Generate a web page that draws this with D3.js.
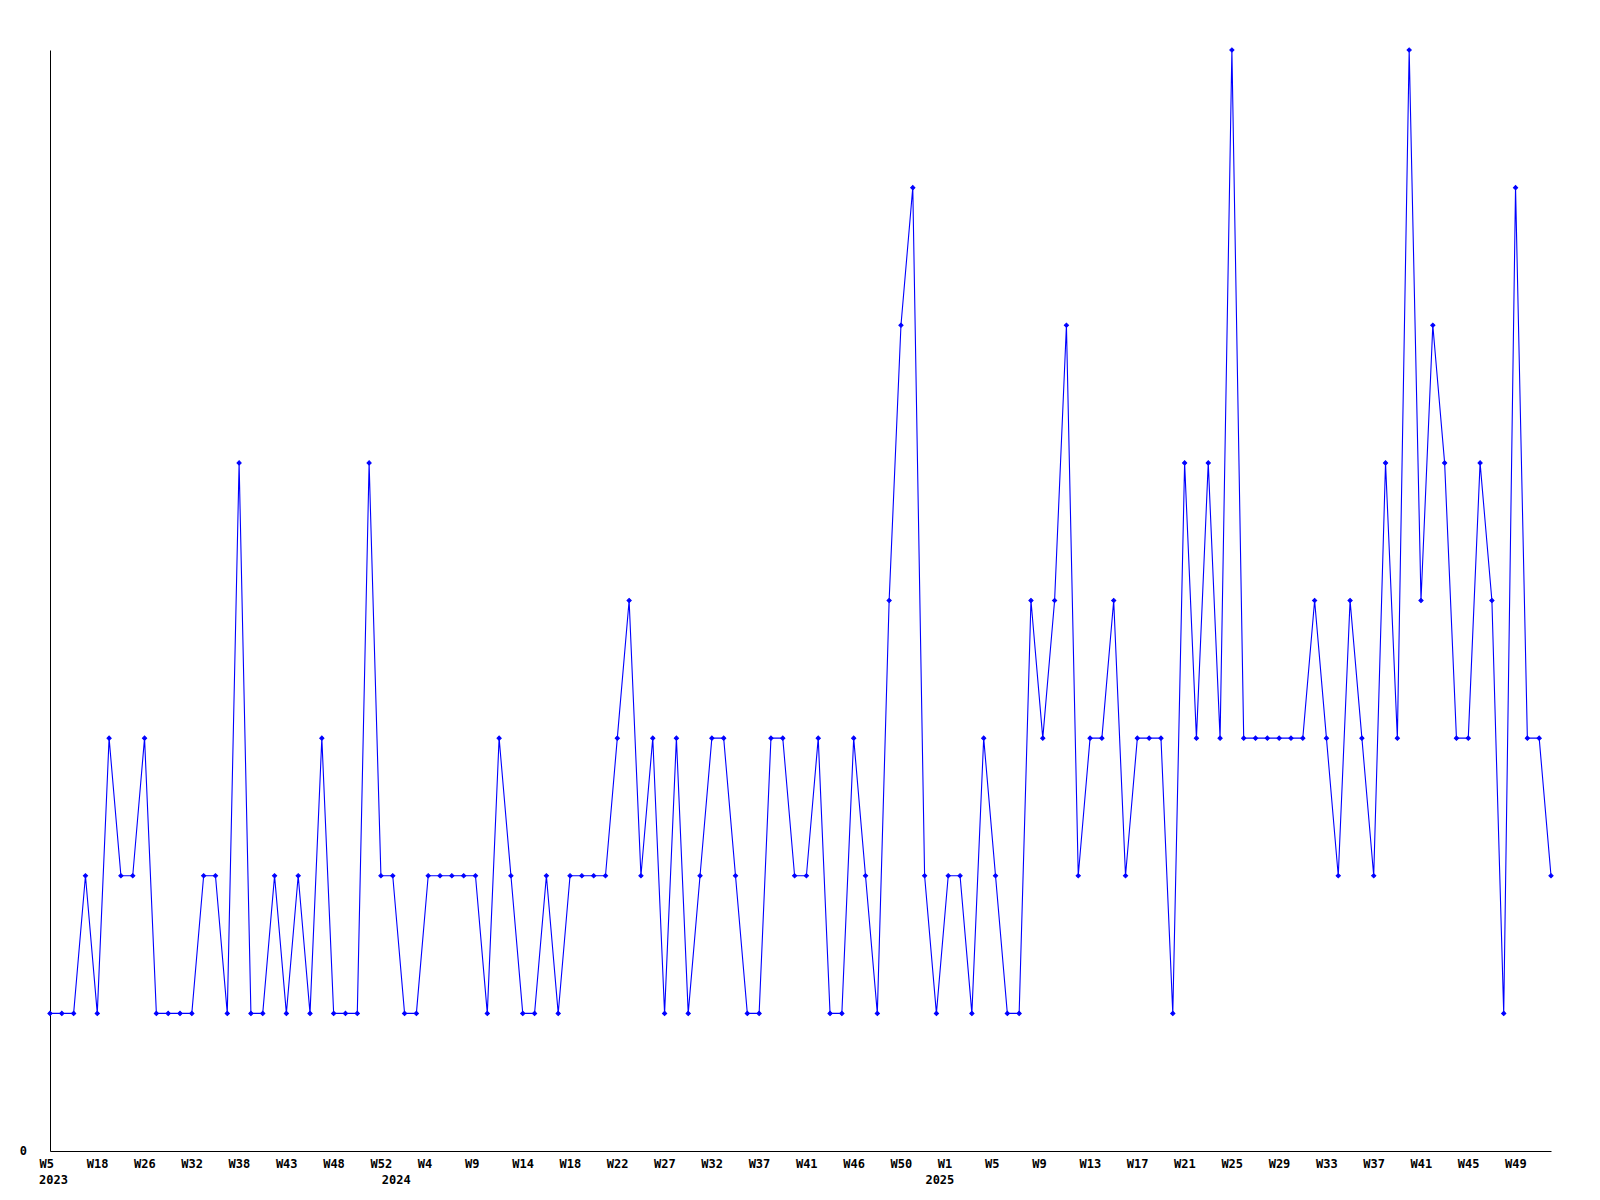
<!DOCTYPE html>
<html>
<head>
  <title>Weekly count</title>
  <style>
    body { margin: 0; background: #fff; }
    svg { display: block; }
  </style>
</head>
<body>
  <div id="chart"></div>
<script type="text/javascript" src="https://d3js.org/d3.v7.min.js"></script>
<script type="text/javascript">
// week label for every point
var weeks = [
  "W5", "W9", "W12", "W15", "W18", "W20", "W22", "W24", "W26", "W27",
  "W29", "W31", "W32", "W33", "W35", "W37", "W38", "W39", "W40", "W42",
  "W43", "W44", "W45", "W47", "W48", "W49", "W50", "W51", "W52",
  "W1", "W2", "W3", "W4", "W5", "W7", "W8", "W9", "W10", "W12",
  "W13", "W14", "W15", "W16", "W17", "W18", "W19", "W20", "W21", "W22",
  "W23", "W25", "W26", "W27", "W28", "W30", "W31", "W32", "W33", "W35",
  "W36", "W37", "W38", "W39", "W40", "W41", "W42", "W44", "W45", "W46",
  "W47", "W48", "W49", "W50", "W51", "W52",
  "W0", "W1", "W2", "W3", "W4", "W5", "W6", "W7", "W8", "W9", "W10",
  "W11", "W12", "W13", "W14", "W15", "W16", "W17", "W18", "W19", "W20",
  "W21", "W22", "W23", "W24", "W25", "W26", "W27", "W28", "W29", "W30",
  "W31", "W32", "W33", "W34", "W35", "W36", "W37", "W38", "W39", "W40",
  "W41", "W42", "W43", "W44", "W45", "W46", "W47", "W48", "W49", "W50",
  "W51", "W52"
];
// years and how many weekly points each one has
var years = ["2023", "2024", "2025"];
var weeksPerYear = [29, 46, 53];

var counts = [
  1, 1, 1, 2, 1, 3, 2, 2, 3, 1,
  1, 1, 1, 2, 2, 1, 5, 1, 1, 2,
  1, 2, 1, 3, 1, 1, 1, 5, 2, 2,
  1, 1, 2, 2, 2, 2, 2, 1, 3, 2,
  1, 1, 2, 1, 2, 2, 2, 2, 3, 4,
  2, 3, 1, 3, 1, 2, 3, 3, 2, 1,
  1, 3, 3, 2, 2, 3, 1, 1, 3, 2,
  1, 4, 6, 7, 2, 1, 2, 2, 1, 3,
  2, 1, 1, 4, 3, 4, 6, 2, 3, 3,
  4, 2, 3, 3, 3, 1, 5, 3, 5, 3,
  8, 3, 3, 3, 3, 3, 3, 4, 3, 2,
  4, 3, 2, 5, 3, 8, 4, 6, 5, 3,
  3, 5, 4, 1, 7, 3, 3, 2
];

var labelEvery = 4;

// year of each point, and the first point of each year
var yearOf = [];
var yearStart = [];
years.forEach(function (yr, k) {
  yearStart.push(yearOf.length);
  for (var j = 0; j < weeksPerYear[k]; j++) yearOf.push(yr);
});

var w = 1600, h = 1200;
var mLeft = 50, mRight = 1551, mTop = 50, mBottom = 1151;

var svg = d3.select("#chart")
            .append("svg")
            .attr("width", w)
            .attr("height", h);

var idx = d3.range(counts.length);

var x = d3.scalePoint()
          .domain(idx)
          .range([mLeft, mRight]);

var y = d3.scaleLinear()
          .domain([0, d3.max(counts)])
          .range([mBottom, mTop]);

var font = "'DejaVu Sans Mono', monospace";

function styleText(sel) {
  sel.attr("font-family", font)
     .attr("font-weight", "bold")
     .attr("font-size", "12px")
     .attr("fill", "#000");
}

// x axis, labels start a little left of their point
var tickIdx = idx.filter(function (i) { return i % labelEvery === 0; });
var xAxis = svg.append("g")
   .attr("transform", "translate(0," + mBottom + ")")
   .call(d3.axisBottom(x)
           .tickValues(tickIdx)
           .tickSize(0)
           .tickSizeOuter(0)
           .tickFormat(function (i) { return weeks[i]; }));

xAxis.select(".domain").attr("stroke", "#000").attr("stroke-width", 1);
xAxis.selectAll("text")
     .attr("text-anchor", "start")
     .attr("x", -11)
     .attr("y", 17)
     .attr("dy", null)
     .call(styleText);

// year labels at the first point of each year
svg.selectAll("text.year")
   .data(yearStart)
   .enter()
   .append("text")
   .attr("class", "year")
   .attr("x", function (i) { return x(i) - 11; })
   .attr("y", mBottom + 33)
   .attr("text-anchor", "start")
   .text(function (i) { return yearOf[i]; })
   .call(styleText);

// y axis, only the zero label
var yAxis = svg.append("g")
   .attr("transform", "translate(" + mLeft + ",0)")
   .call(d3.axisLeft(y)
           .tickValues([0])
           .tickSize(0)
           .tickSizeOuter(0)
           .tickPadding(23));

yAxis.select(".domain").attr("stroke", "#000").attr("stroke-width", 1);
yAxis.selectAll("text").call(styleText);

// line
var line = d3.line()
             .x(function (d, i) { return x(i); })
             .y(function (d) { return y(d); });

svg.append("path")
   .datum(counts)
   .attr("d", line)
   .attr("fill", "none")
   .attr("stroke", "#0000ff")
   .attr("stroke-width", 1.1);

// markers: small square diamonds
svg.selectAll("path.marker")
   .data(counts)
   .enter()
   .append("path")
   .attr("class", "marker")
   .attr("d", d3.symbol().type(d3.symbolSquare).size(9))
   .attr("transform", function (d, i) {
     return "translate(" + x(i) + "," + y(d) + ") rotate(45)";
   })
   .attr("fill", "#0000ff")
   .attr("stroke", "#0000ff")
   .attr("stroke-width", 1);
</script>
</body>
</html>
